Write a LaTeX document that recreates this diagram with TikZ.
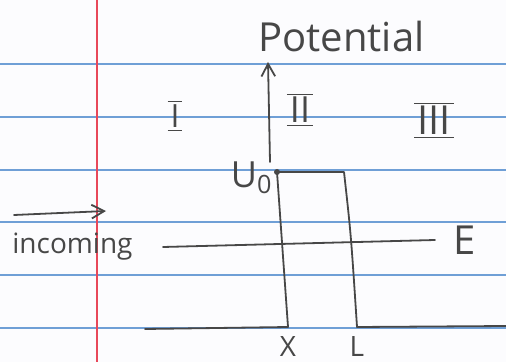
\documentclass[tikz,border=0pt]{standalone}
\usepackage{fontspec}
\setmainfont{Open Sans}
\usetikzlibrary{arrows.meta, positioning}
\definecolor{ink}{HTML}{474747}
\definecolor{ruleblue}{HTML}{6F9FD6}
\definecolor{margred}{HTML}{E8485A}
\definecolor{paper}{HTML}{FCFCFE}

\newcommand{\barred}[1]{$\overline{\underline{\hbox{\kern1.5pt#1\kern1.5pt}}}$}

\begin{document}
\begin{tikzpicture}[
  x=0.5pt, y=-0.5pt,
  >={Straight Barb[length=2.2mm, width=2.4mm]},
  pen/.style={ink, line width=0.9pt, line cap=round, line join=round},
  hand/.style={text=ink, inner sep=0pt},
  rule/.style={ruleblue, line width=0.6pt},
]

% Paper
\fill[paper] (0,0) rectangle (506,362);
\useasboundingbox (0,0) rectangle (506,362);

% Ruled lines
\foreach \y in {64,117,170,222,275,328} {
  \draw[rule] (0,\y) -- (506,\y);
}

% Margin
\draw[margred, line width=1pt] (97,0) -- (97,362);

% === Potential axis ===
\coordinate (axisbase) at (270,162);
\coordinate (axistop) at (268,62);
\draw[pen, ->] (axisbase) -- (axistop);
\node[hand, font=\fontsize{20}{20}\selectfont, anchor=base west] (potential) at (258,52) {Potential};

% Region labels
\node[hand, font=\fontsize{16}{16}\selectfont] (regionI) at (175,116) {\barred{I}};
\node[hand, font=\fontsize{18}{18}\selectfont] (regionII) at (300,110) {\barred{II}};
\node[hand, font=\fontsize{20}{20}\selectfont] (regionIII) at (434,120) {\barred{III}};

% === Barrier ===
\coordinate (xtop) at (277,172);
\coordinate (ltop) at (344,172);
\coordinate (xfoot) at (288,327);
\coordinate (lfoot) at (357,327);
\draw[pen] (xfoot) -- (xtop) -- (ltop) .. controls (351,235) .. (lfoot);
\fill[ink] (xtop) circle (1.5pt);
\node[hand, font=\fontsize{18}{18}\selectfont, anchor=east] (uzero) at (273,178) {U\textsubscript{0}};

% Ground
\coordinate (gleft) at (145,329);
\coordinate (gright) at (506,326);
\draw[pen] (gleft) -- (xfoot);
\draw[pen] (lfoot) -- (gright);
\node[hand, font=\fontsize{14}{14}\selectfont, below=4.5pt of xfoot] (xlabel) {X};
\node[hand, font=\fontsize{14}{14}\selectfont, below=4.5pt of lfoot] (llabel) {L};

% === Energy level ===
\coordinate (estart) at (163,247);
\coordinate (eend) at (435,240);
\draw[pen] (estart) -- (eend);
\node[hand, font=\fontsize{20}{20}\selectfont, right=9pt of eend] (elabel) {E};

% === Incoming wave ===
\coordinate (inbeg) at (14,215);
\coordinate (inend) at (106,211);
\draw[pen, ->] (inbeg) -- (inend);
\node[hand, font=\fontsize{14}{14}\selectfont, anchor=base west] (incoming) at (12,253) {incoming};

\end{tikzpicture}
\end{document}
